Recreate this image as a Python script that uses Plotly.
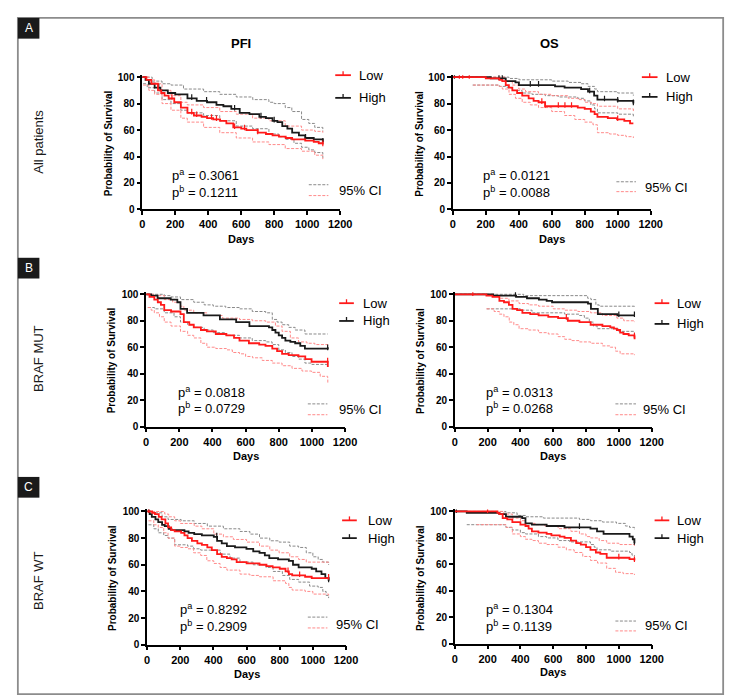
import plotly.graph_objects as go

W, H = 735, 699

# ---------------- data (day, survival %) ----------------
A_PFI_LOW = [(0,100),(25,98),(55,95),(95,90),(115,88),(135,86),(160,84),(194,81),(234,77),(274,73),(313,71),(360,70),(393,69),(430,68),(472,67),(510,65),(552,62),(600,61),(631,60),(700,58),(750,57),(790,56),(829,55),(870,54),(909,53),(988,52),(1040,51),(1070,50),(1095,49)]
A_PFI_HIGH = [(0,100),(20,98),(40,95),(75,92),(110,90),(155,88),(200,87),(274,84),(330,82),(393,81),(450,79),(492,78),(540,76),(591,73),(650,72),(710,70),(750,69),(790,67),(820,66),(849,63),(880,61),(909,58),(950,56),(988,54),(1040,53),(1095,51)]
A_PFI_HIGH_U = [(0,100),(60,97),(120,95),(174,94),(250,91),(372,89),(470,87),(570,85),(670,83),(768,81),(800,80),(867,77),(907,74),(966,68),(1010,65),(1046,62),(1095,59)]
A_PFI_HIGH_L = [(5,95),(30,92),(75,88),(120,83),(174,80),(234,75),(273,73),(372,71),(470,67),(570,63),(669,61),(768,57),(828,55),(867,53),(920,50),(966,47),(1010,45),(1046,43),(1095,39)]
A_PFI_LOW_U = [(0,100),(40,98),(75,95),(120,90),(174,86),(234,81),(273,79),(372,77),(470,74),(570,72),(669,69),(768,67),(867,63),(966,60),(1046,59),(1095,58)]
A_PFI_LOW_L = [(5,94),(40,90),(75,87),(120,80),(174,75),(234,69),(273,66),(372,62),(470,58),(570,54),(669,51),(768,49),(867,46),(966,44),(1046,41),(1095,38)]
A_PFI_LOW_CENS = [180,300,330,420,450,560,620,700,1095]
A_PFI_HIGH_CENS = [100,300,390,560,720,800,990,1095]

A_OS_LOW = [(0,100),(190,100),(200,99),(282,98),(300,97),(321,94),(340,92),(361,90),(390,88),(421,86),(460,84),(490,82),(520,81),(560,78),(660,78),(758,77),(800,76),(837,74),(860,72),(877,70),(940,69),(996,68),(1040,67),(1075,65),(1095,65)]
A_OS_HIGH = [(0,100),(200,100),(230,99),(321,97),(380,96),(401,94),(599,94),(620,93),(678,92),(778,91),(820,89),(857,86),(877,83),(1000,82),(1075,82),(1095,80)]
A_OS_HIGH_U = [(0,100),(282,100),(340,99),(401,98),(599,97),(700,96),(778,95),(820,93),(860,91),(877,89),(1000,88),(1095,86)]
A_OS_HIGH_L = [(120,94),(282,93),(330,92),(361,90),(420,88),(480,87),(560,86),(639,85),(700,85),(758,84),(800,82),(837,79),(860,76),(877,73),(1000,72),(1095,70)]
A_OS_LOW_U = [(0,100),(300,100),(321,97),(361,94),(400,91),(441,89),(520,87),(600,86),(700,84),(758,83),(800,81),(840,80),(877,78),(1000,76),(1095,74)]
A_OS_LOW_L = [(123,94),(282,93),(300,91),(341,87),(380,84),(421,81),(470,79),(520,77),(600,74),(678,71),(740,68),(800,66),(850,64),(877,58),(950,57),(1000,56),(1050,55),(1095,54)]
A_OS_LOW_CENS = [40,60,100,540,560,640,680,720,1000]
A_OS_HIGH_CENS = [10,280,300,470,520,830,920,1000,1095]

B_PFI_LOW = [(0,100),(20,98),(49,96),(70,94),(89,92),(109,88),(150,87),(207,85),(227,79),(260,77),(287,75),(330,73),(366,72),(420,70),(484,69),(530,67),(563,65),(620,63),(682,62),(720,61),(761,59),(790,57),(820,55),(860,54),(919,53),(960,51),(998,49),(1095,49),(1096,45)]
B_PFI_HIGH = [(0,100),(30,99),(69,97),(148,96),(188,94),(207,89),(247,86),(346,84),(445,81),(543,79),(623,76),(741,75),(761,73),(780,71),(800,69),(820,67),(840,65),(870,64),(899,63),(930,61),(958,59),(1095,59),(1096,60)]
B_PFI_HIGH_U = [(0,100),(60,100),(109,99),(150,98),(207,96),(287,94),(350,92),(405,91),(480,90),(563,89),(640,87),(721,86),(761,81),(790,79),(820,77),(860,75),(899,73),(958,70),(1095,70)]
B_PFI_HIGH_L = [(10,90),(50,89),(109,86),(168,83),(207,79),(250,77),(287,75),(350,73),(405,71),(480,69),(563,67),(640,65),(721,64),(760,62),(800,58),(840,56),(880,53),(920,51),(958,48),(1000,47),(1095,47)]
B_PFI_LOW_U = [(0,100),(50,99),(109,96),(160,94),(207,91),(227,88),(287,86),(366,84),(460,82),(563,81),(640,80),(721,79),(780,76),(820,72),(870,67),(919,64),(970,63),(1018,62),(1095,61)]
B_PFI_LOW_L = [(10,90),(30,88),(49,86),(80,83),(109,79),(150,76),(207,72),(250,69),(287,67),(330,63),(366,60),(420,59),(484,58),(520,56),(563,55),(600,53),(642,52),(700,50),(761,48),(820,46),(880,44),(940,42),(998,41),(1050,38),(1095,37),(1096,33)]
B_PFI_LOW_CENS = [1095]
B_PFI_HIGH_CENS = [1095]

B_OS_LOW = [(0,100),(180,100),(193,99),(230,98),(272,95),(300,94),(330,92),(352,89),(380,88),(412,86),(460,85),(511,84),(570,83),(630,82),(689,80),(760,79),(828,77),(900,76),(948,75),(970,74),(988,73),(1008,71),(1028,70),(1060,69),(1095,68),(1096,66)]
B_OS_HIGH = [(0,100),(194,100),(235,99),(374,98),(440,97),(513,96),(560,95),(593,94),(780,94),(812,93),(830,89),(872,85),(991,84),(1095,84)]
B_OS_HIGH_U = [(0,100),(372,100),(420,99),(780,99),(810,97),(830,96),(860,92),(880,91),(1095,90)]
B_OS_HIGH_L = [(195,89),(300,89),(400,88),(471,86),(560,86),(670,85),(760,84),(790,82),(820,79),(845,76),(868,74),(1000,72),(1095,71)]
B_OS_LOW_U = [(0,100),(200,100),(240,99),(272,97),(330,95),(392,93),(450,92),(511,91),(600,89),(670,88),(750,87),(828,86),(900,84),(988,82),(1030,80),(1095,79)]
B_OS_LOW_L = [(193,89),(240,87),(272,85),(300,83),(332,79),(360,77),(392,74),(450,73),(511,71),(570,70),(630,68),(670,66),(709,65),(760,64),(828,63),(900,61),(948,60),(980,57),(1008,55),(1095,54)]
B_OS_LOW_CENS = [110,680,1095]
B_OS_HIGH_CENS = [370,1000,1095]

C_PFI_LOW = [(0,100),(30,99),(47,98),(70,96),(87,94),(110,91),(126,88),(145,86),(166,85),(205,84),(225,82),(244,80),(270,78),(303,76),(330,75),(363,73),(390,71),(422,68),(450,66),(481,65),(510,64),(540,62),(600,61),(678,60),(720,59),(757,58),(800,57),(835,55),(855,53),(875,52),(953,51),(993,50),(1095,50)]
C_PFI_HIGH = [(0,100),(15,98),(28,96),(50,94),(67,92),(90,90),(106,89),(130,87),(146,86),(225,85),(250,84),(284,83),(330,82),(402,81),(422,78),(450,76),(481,74),(530,73),(599,72),(640,70),(678,69),(710,67),(737,65),(790,64),(855,63),(880,60),(914,58),(993,57),(1020,55),(1052,53),(1075,50),(1095,48)]
C_PFI_HIGH_U = [(0,100),(47,99),(90,96),(126,94),(205,93),(284,91),(363,89),(460,87),(560,85),(620,83),(678,80),(740,78),(796,77),(860,74),(914,73),(960,69),(1000,66),(1032,64),(1060,62),(1095,60)]
C_PFI_HIGH_L = [(8,90),(40,87),(67,84),(100,82),(126,80),(166,75),(244,74),(280,72),(323,71),(442,68),(500,65),(560,62),(640,60),(717,58),(760,55),(816,52),(860,49),(914,47),(980,44),(1032,43),(1060,40),(1080,37),(1095,35)]
C_PFI_LOW_U = [(0,100),(60,100),(106,98),(130,96),(166,93),(200,91),(284,89),(330,87),(402,83),(460,81),(520,79),(600,77),(678,74),(740,71),(796,69),(860,66),(914,64),(960,62),(1095,61)]
C_PFI_LOW_L = [(8,93),(40,90),(67,88),(100,84),(126,80),(166,74),(200,73),(244,72),(280,69),(323,67),(360,63),(402,61),(440,58),(481,56),(560,53),(620,52),(678,51),(760,48),(835,46),(855,43),(875,41),(953,40),(1000,38),(1095,37)]
C_PFI_LOW_CENS = [10,850,920,1095]
C_PFI_HIGH_CENS = [10,420,1095]

C_OS_LOW = [(0,100),(200,100),(260,99),(272,98),(292,95),(320,94),(351,92),(400,90),(431,89),(450,87),(470,85),(510,84),(560,83),(589,82),(640,81),(669,80),(708,78),(740,76),(768,75),(800,73),(827,71),(860,69),(887,68),(926,65),(1000,65),(1065,64),(1095,63)]
C_OS_HIGH = [(0,100),(73,99),(232,99),(272,98),(312,96),(411,95),(431,91),(470,90),(510,90),(560,89),(669,88),(780,88),(827,87),(867,85),(907,83),(1026,83),(1065,81),(1085,79),(1095,76)]
C_OS_HIGH_U = [(0,100),(272,100),(312,99),(380,97),(431,96),(540,95),(669,95),(760,94),(827,93),(900,92),(986,91),(1040,89),(1065,88),(1095,86)]
C_OS_HIGH_L = [(73,90),(272,90),(312,88),(351,86),(400,84),(431,83),(510,81),(560,80),(629,78),(700,77),(827,75),(850,73),(867,71),(950,70),(1065,69),(1080,67),(1095,66)]
C_OS_LOW_U = [(0,100),(272,100),(300,98),(351,95),(400,93),(431,91),(490,90),(549,89),(630,87),(708,85),(760,83),(800,81),(827,80),(880,78),(926,76),(1000,75),(1095,74)]
C_OS_LOW_L = [(133,90),(272,90),(312,88),(351,83),(400,81),(431,79),(470,78),(510,76),(560,75),(629,73),(680,71),(728,69),(780,66),(827,63),(870,61),(926,57),(980,54),(1026,53),(1095,52)]
C_OS_LOW_CENS = [200,1000,1095]
C_OS_HIGH_CENS = [10,760,1095]

P_A = ["0.3061", "0.0121", "0.0818", "0.0313", "0.8292", "0.1304"]
P_B = ["0.1211", "0.0088", "0.0729", "0.0268", "0.2909", "0.1139"]
ROW_LABELS = ["All patients", "BRAF MUT", "BRAF WT"]
ROW_LETTERS = ["A", "B", "C"]
COL_TITLES = ["PFI", "OS"]
X_TICKS = [0, 200, 400, 600, 800, 1000, 1200]
Y_TICKS = [0, 20, 40, 60, 80, 100]
SERIES_NAMES = ["Low", "High"]
CI_LABEL = "95% CI"

PANEL_DATA = [
    (A_PFI_LOW, A_PFI_HIGH, A_PFI_LOW_U, A_PFI_LOW_L, A_PFI_HIGH_U, A_PFI_HIGH_L, A_PFI_LOW_CENS, A_PFI_HIGH_CENS),
    (A_OS_LOW, A_OS_HIGH, A_OS_LOW_U, A_OS_LOW_L, A_OS_HIGH_U, A_OS_HIGH_L, A_OS_LOW_CENS, A_OS_HIGH_CENS),
    (B_PFI_LOW, B_PFI_HIGH, B_PFI_LOW_U, B_PFI_LOW_L, B_PFI_HIGH_U, B_PFI_HIGH_L, B_PFI_LOW_CENS, B_PFI_HIGH_CENS),
    (B_OS_LOW, B_OS_HIGH, B_OS_LOW_U, B_OS_LOW_L, B_OS_HIGH_U, B_OS_HIGH_L, B_OS_LOW_CENS, B_OS_HIGH_CENS),
    (C_PFI_LOW, C_PFI_HIGH, C_PFI_LOW_U, C_PFI_LOW_L, C_PFI_HIGH_U, C_PFI_HIGH_L, C_PFI_LOW_CENS, C_PFI_HIGH_CENS),
    (C_OS_LOW, C_OS_HIGH, C_OS_LOW_U, C_OS_LOW_L, C_OS_HIGH_U, C_OS_HIGH_L, C_OS_LOW_CENS, C_OS_HIGH_CENS),
]

# ---------------- layout geometry (pixels) ----------------
# (x at 0 days, x at 1200 days, y at 100%, y at 0%)
GEOM = [(134, 336, 67, 201), (451, 653, 67, 201),
        (138, 341, 287, 421), (453, 654, 287, 421),
        (139, 342, 507, 642), (453, 654, 507, 641)]
YTITLE_X = [99, 417, 103, 418, 103, 418]
DAYS_Y = [231, 231, 451, 451, 672, 670]
LEG = [(331, 347, 65, 88, 353), (644, 660, 67, 87, 667),
       (335, 350, 296, 314, 357), (657, 672, 296, 317, 678),
       (338, 353, 516, 534, 362), (657, 672, 516, 534, 678)]
CILEG = [(304, 324, 176, 187, 333, 182), (618, 638, 173, 183, 645, 179),
         (303, 323, 398, 409, 333, 404), (617, 638, 398, 409, 643, 404),
         (303, 323, 614, 625, 330, 621), (617, 638, 618, 628, 645, 623)]
PTXT = [(162, 166, 183), (480, 166, 183), (168, 386, 402),
        (483, 386, 402), (170, 606, 623), (483, 606, 623)]

RED = "#ff1a1a"
BLACK = "#1a1a1a"
GRAY_CI = "#8a8a8a"
RED_CI = "#ff8a8a"
FONT = "Liberation Sans, Arial, sans-serif"
YTOP = 101.5


def px(x):
    return x / W


def py(y):
    return 1 - y / H


def step_y(curve, d):
    y = curve[0][1]
    for dd, s in curve:
        if dd <= d:
            y = s
        else:
            break
    return y


fig = go.Figure()
layout = dict(width=W, height=H, margin=dict(l=0, r=0, t=0, b=0),
              paper_bgcolor="white", plot_bgcolor="white", showlegend=False)
shapes = []
annotations = []

for i, (geom, data) in enumerate(zip(GEOM, PANEL_DATA)):
    n = i + 1
    xname = "x" if n == 1 else f"x{n}"
    yname = "y" if n == 1 else f"y{n}"
    xkey = "xaxis" if n == 1 else f"xaxis{n}"
    ykey = "yaxis" if n == 1 else f"yaxis{n}"
    x0, x1, y100, y0 = geom
    unit = (y0 - y100) / 100.0
    ytop_px = y100 - (YTOP - 100) * unit
    layout[xkey] = dict(domain=[px(x0), px(x1)], range=[0, 1200], tickvals=X_TICKS,
                        ticks="outside", ticklen=4, tickwidth=1.5, tickcolor="black",
                        showline=True, linewidth=1.5, linecolor="black",
                        showgrid=False, zeroline=False, anchor=yname,
                        tickfont=dict(family=FONT, size=11, color="black", weight="bold"),
                        fixedrange=True)
    layout[ykey] = dict(domain=[py(y0), py(ytop_px)], range=[0, YTOP], tickvals=Y_TICKS,
                        ticks="outside", ticklen=4, tickwidth=1.5, tickcolor="black",
                        showline=True, linewidth=1.5, linecolor="black",
                        showgrid=False, zeroline=False, anchor=xname,
                        tickfont=dict(family=FONT, size=10, color="black", weight="bold"),
                        fixedrange=True)

    low, high, low_u, low_l, high_u, high_l, low_c, high_c = data
    for curve, col in [(high_u, GRAY_CI), (high_l, GRAY_CI), (low_u, RED_CI), (low_l, RED_CI)]:
        fig.add_trace(go.Scatter(x=[p[0] for p in curve], y=[p[1] for p in curve],
                                 mode="lines", line=dict(color=col, width=1, dash="3px,1.5px", shape="hv"),
                                 xaxis=xname, yaxis=yname, hoverinfo="skip"))
    for curve, cens, col in [(high, high_c, BLACK), (low, low_c, RED)]:
        fig.add_trace(go.Scatter(x=[p[0] for p in curve], y=[p[1] for p in curve],
                                 mode="lines", line=dict(color=col, width=1.8, shape="hv"),
                                 xaxis=xname, yaxis=yname))
        fig.add_trace(go.Scatter(x=cens, y=[step_y(curve, c) + 0.9 for c in cens],
                                 mode="markers",
                                 marker=dict(symbol="line-ns", size=4, line=dict(color=col, width=1.2)),
                                 xaxis=xname, yaxis=yname, hoverinfo="skip"))

    # axis titles
    annotations.append(dict(x=px(YTITLE_X[i]), y=py((y100 + y0) / 2), xref="paper", yref="paper",
                            text="Probability of Survival", textangle=-90, showarrow=False,
                            font=dict(family=FONT, size=10, color="black", weight="bold"),
                            xanchor="center", yanchor="middle"))
    annotations.append(dict(x=px((x0 + x1) / 2), y=py(DAYS_Y[i]), xref="paper", yref="paper",
                            text="Days", showarrow=False,
                            font=dict(family=FONT, size=11, color="black", weight="bold"),
                            xanchor="center", yanchor="middle"))

    # Low / High legend
    lx0, lx1, ylow, yhigh, tx = LEG[i]
    for yy, col, name in [(ylow, RED, SERIES_NAMES[0]), (yhigh, BLACK, SERIES_NAMES[1])]:
        shapes.append(dict(type="line", xref="paper", yref="paper", x0=px(lx0), x1=px(lx1),
                           y0=py(yy), y1=py(yy), line=dict(color=col, width=1.8)))
        mx = (lx0 + lx1) / 2
        shapes.append(dict(type="line", xref="paper", yref="paper", x0=px(mx), x1=px(mx),
                           y0=py(yy), y1=py(yy - 4), line=dict(color=col, width=1.3)))
        annotations.append(dict(x=px(tx), y=py(yy), xref="paper", yref="paper", text=name,
                                showarrow=False, xanchor="left", yanchor="middle",
                                font=dict(family=FONT, size=13, color="black")))

    # 95% CI legend
    cx0, cx1, yg, yr, ctx, cty = CILEG[i]
    for yy, col in [(yg, GRAY_CI), (yr, RED_CI)]:
        shapes.append(dict(type="line", xref="paper", yref="paper", x0=px(cx0), x1=px(cx1),
                           y0=py(yy), y1=py(yy), line=dict(color=col, width=1, dash="3px,1.5px")))
    annotations.append(dict(x=px(ctx), y=py(cty), xref="paper", yref="paper", text=CI_LABEL,
                            showarrow=False, xanchor="left", yanchor="middle",
                            font=dict(family=FONT, size=13, color="black")))

    # p-values
    ptx, pya, pyb = PTXT[i]
    for yy, sup, val in [(pya, "a", P_A[i]), (pyb, "b", P_B[i])]:
        annotations.append(dict(x=px(ptx), y=py(yy), xref="paper", yref="paper",
                                text=f"p<sup>{sup}</sup> = {val}", showarrow=False,
                                xanchor="left", yanchor="middle",
                                font=dict(family=FONT, size=13, color="black")))

# column titles
for title, cx in zip(COL_TITLES, [235, 550]):
    annotations.append(dict(x=px(cx), y=py(33), xref="paper", yref="paper", text=title,
                            showarrow=False, xanchor="center", yanchor="middle",
                            font=dict(family=FONT, size=13, color="black", weight="bold")))

# outer frame
shapes.append(dict(type="rect", xref="paper", yref="paper", x0=px(7), x1=px(727),
                   y0=py(692), y1=py(7), line=dict(color="#8c8c8c", width=1.8)))

# row letters and labels
for letter, label, ytop, ylab in zip(ROW_LETTERS, ROW_LABELS, [7, 250, 472], [132, 352, 577]):
    shapes.append(dict(type="rect", xref="paper", yref="paper", x0=px(7), x1=px(29),
                       y0=py(ytop + 21), y1=py(ytop), fillcolor="#1a1a1a", line=dict(width=0)))
    annotations.append(dict(x=px(18), y=py(ytop + 10.5), xref="paper", yref="paper", text=letter,
                            showarrow=False, xanchor="center", yanchor="middle",
                            font=dict(family=FONT, size=12, color="white")))
    annotations.append(dict(x=px(28), y=py(ylab), xref="paper", yref="paper", text=label,
                            textangle=-90, showarrow=False, xanchor="center", yanchor="middle",
                            font=dict(family=FONT, size=13, color="#1a1a1a")))

layout["shapes"] = shapes
layout["annotations"] = annotations
fig.update_layout(**layout)
fig.write_html("out.html")
